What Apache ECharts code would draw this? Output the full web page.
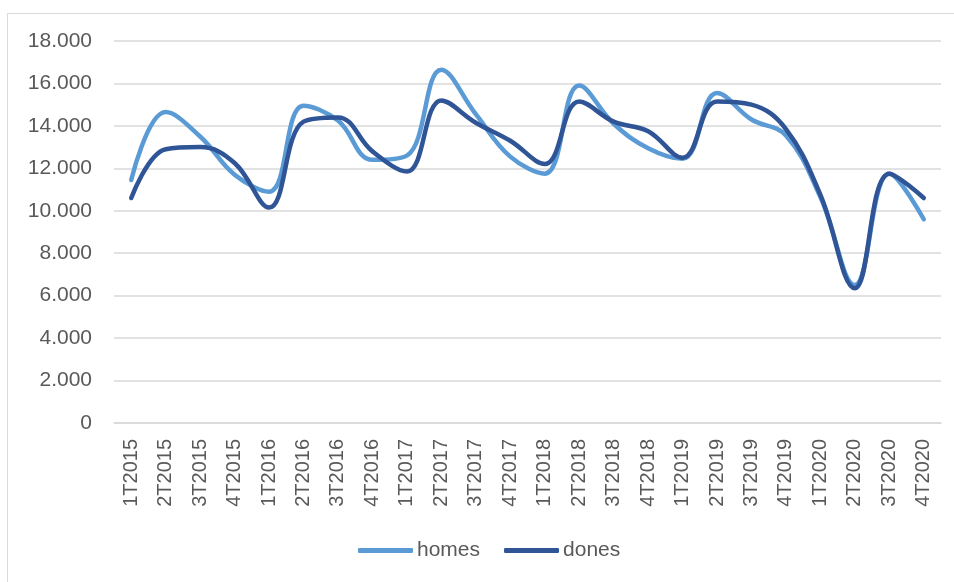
<!DOCTYPE html>
<html><head><meta charset="utf-8">
<script src="https://cdn.jsdelivr.net/npm/echarts@6/dist/echarts.min.js"></script>
<style>
html,body{margin:0;padding:0;background:#fff;overflow:hidden;}
#wrap{position:relative;width:954px;height:582px;overflow:hidden;}
#frame{position:absolute;left:7px;top:13px;width:1000px;height:1000px;border:1px solid #d9d9d9;box-sizing:border-box;}
#c{position:absolute;left:0;top:0;width:954px;height:582px;}
</style></head>
<body><div id="wrap"><div id="frame"></div><div id="c"></div></div>
<script>
const categories = ['1T2015','2T2015','3T2015','4T2015','1T2016','2T2016','3T2016','4T2016','1T2017','2T2017','3T2017','4T2017','1T2018','2T2018','3T2018','4T2018','1T2019','2T2019','3T2019','4T2019','1T2020','2T2020','3T2020','4T2020'];
const homes = [11450,14650,13500,11700,10900,14950,14250,12400,12600,16650,14550,12550,11750,15900,14100,12950,12450,15550,14300,13550,10650,6500,11750,9600];
const dones = [10600,12900,13000,12250,10150,14200,14400,12800,11850,15200,14150,13300,12200,15150,14200,13750,12500,15150,15000,13850,10750,6350,11750,10600];
const yTicks = {min:0, max:18000, interval:2000};

const chart = echarts.init(document.getElementById('c'));
const fmt = v => v === 0 ? '0' : String(v).replace(/\B(?=(\d{3})+(?!\d))/g, '.');
const FONT = 'Liberation Sans, Arial, sans-serif';
chart.setOption({
  animation:false,
  grid:{left:114, right:13, top:41, bottom:159, containLabel:false},
  legend:{
    data:['homes','dones'], top:540, left:358, padding:0,
    icon:'roundRect', itemWidth:55, itemHeight:5, itemGap:24,
    textStyle:{color:'#595959', fontSize:21, fontFamily:FONT, padding:[0,0,0,-1]}
  },
  xAxis:{
    type:'category', data:categories, boundaryGap:true,
    axisLine:{lineStyle:{color:'#d9d9d9', width:1.5}},
    axisTick:{show:false},
    axisLabel:{rotate:90, color:'#595959', fontSize:20, margin:16, fontFamily:FONT}
  },
  yAxis:{
    type:'value', min:yTicks.min, max:yTicks.max, interval:yTicks.interval,
    axisLine:{show:false}, axisTick:{show:false},
    splitLine:{lineStyle:{color:'#d9d9d9', width:1.5}},
    axisLabel:{formatter:fmt, color:'#595959', fontSize:21, margin:22, fontFamily:FONT}
  },
  series:[
    {name:'homes', type:'line', data:homes, smooth:0.4, showSymbol:false, symbol:'none',
     lineStyle:{color:'#5B9BD5', width:4.5, cap:'round'}, itemStyle:{color:'#5B9BD5'}},
    {name:'dones', type:'line', data:dones, smooth:0.4, showSymbol:false, symbol:'none',
     lineStyle:{color:'#2F5597', width:4.5, cap:'round'}, itemStyle:{color:'#2F5597'}}
  ]
});
</script></body></html>
